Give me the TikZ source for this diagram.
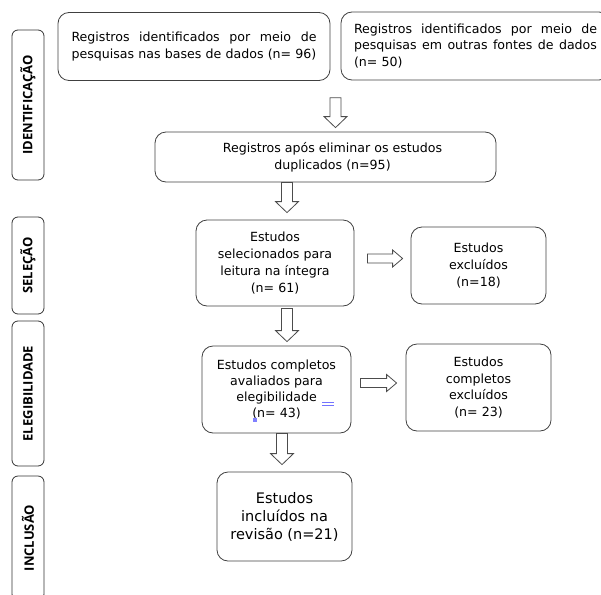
\documentclass[tikz,border=0pt]{standalone}
\usepackage{fontspec}
\setmainfont{DejaVu Sans}
\newfontfamily\phasefont{Open Sans}
\usetikzlibrary{calc}

\begin{document}
\begin{tikzpicture}[x=1pt, y=-1pt,
  stage/.style={draw=black!80, line width=0.8pt, rounded corners=6pt, rotate=90, minimum height=32pt, inner sep=0pt, font=\phasefont\bfseries\fontsize{13}{15}\selectfont},
  box/.style={draw=black!75, line width=0.8pt, rounded corners=11pt, align=center, inner sep=0pt, font=\fontsize{12.6}{16.8}\selectfont},
  hollow/.style={draw=black!70, line width=0.8pt, fill=white},
  downarrow/.style={hollow, to path={let \p1=(\tikztostart), \p2=(\tikztotarget) in
    (\x1-5.5pt,\y1) -- (\x1+5.5pt,\y1) -- (\x1+5.5pt,\y2+11pt) -- (\x1+11.5pt,\y2+11pt) -- (\x1,\y2) -- (\x1-11.5pt,\y2+11pt) -- (\x1-5.5pt,\y2+11pt) -- cycle}},
  rightarrow/.style={hollow, to path={let \p1=(\tikztostart), \p2=(\tikztotarget) in
    (\x1,\y1+4.5pt) -- (\x2-10pt,\y1+4.5pt) -- (\x2-10pt,\y1+8.5pt) -- (\x2,\y1) -- (\x2-10pt,\y1-8.5pt) -- (\x2-10pt,\y1-4.5pt) -- (\x1,\y1-4.5pt) -- cycle}}]
  \clip (0,0) rectangle (601,594);

  \node[stage, minimum width=150pt] (ident) at (28,105) {IDENTIFICAÇÃO};
  \node[stage, minimum width=97pt] (selec) at (28,265.5) {SELEÇÃO};
  \node[stage, minimum width=145pt] (eleg) at (28,393.5) {ELEGIBILIDADE};
  \node[stage, minimum width=124pt] (incl) at (28,538) {INCLUSÃO};

  \node[box, minimum width=272pt, minimum height=68pt, text width=245pt, align=left] (bases) at (194,46.5)
    {Registros\hfill identificados\hfill por\hfill meio\hfill de\\ \mbox{pesquisas nas bases de dados (n=~96)}};
  \node[box, minimum width=269pt, minimum height=68pt, text width=243pt, align=left] (outras) at (475.5,46)
    {Registros\hfill identificados\hfill por\hfill meio\hfill de\\ pesquisas\hfill em\hfill outras\hfill fontes\hfill de\hfill dados\\ (n= 50)};
  \node[box, minimum width=341pt, minimum height=50pt] (dupl) at (325.5,157)
    {\hspace*{14pt}Registros após eliminar os estudos\\ \hspace*{14pt}duplicados (n=95)};
  \node[box, minimum width=158pt, minimum height=86pt] (selecionados) at (275,263)
    {Estudos\\ selecionados para\\ leitura na íntegra\\ (n= 61)};
  \node[box, minimum width=135pt, minimum height=77pt] (excl1) at (478.5,265.5)
    {Estudos\\ excluídos\\ (n=18)};
  \node[box, minimum width=149pt, minimum height=87pt, font=\fontsize{12.6}{16}\selectfont] (completos) at (276.5,389.5)
    {Estudos completos\\ avaliados para\\ elegibilidade\\ (n= 43)};
  \node[box, minimum width=145pt, minimum height=87pt] (excl2) at (478.5,387.5)
    {Estudos\\ completos\\ excluídos\\ (n= 23)};
  \node[box, minimum width=135pt, minimum height=89pt, font=\fontsize{14.5}{18}\selectfont] (incluidos) at (284.5,516.5)
    {Estudos\\ incluídos na\\ revisão (n=21)};

  \coordinate (gap) at ($(bases.south east)!.5!(outras.south west)$);
  \draw[downarrow] ([yshift=-17pt]gap) to ([yshift=4pt]dupl.north);
  \draw[downarrow] ([xshift=-38.5pt]dupl.south) to ([yshift=7pt]selecionados.north);
  \draw[downarrow] ([xshift=12pt,yshift=-2pt]selecionados.south) to ([yshift=4pt]completos.north);
  \draw[downarrow] ([xshift=5.5pt]completos.south) to ([yshift=7pt]incluidos.north);
  \draw[rightarrow] ([xshift=13pt,yshift=4.5pt]selecionados.east) to ([xshift=-8pt]excl1.west);
  \draw[rightarrow] ([xshift=9pt,yshift=6.5pt]completos.east) to ([xshift=-9pt]excl2.west);

  \draw[blue!55, line width=0.6pt] (322,402.5) -- (334,402.5) (322,405) -- (334,405);
  \fill[blue!50] (253,418) rectangle (257,422);
\end{tikzpicture}
\end{document}
